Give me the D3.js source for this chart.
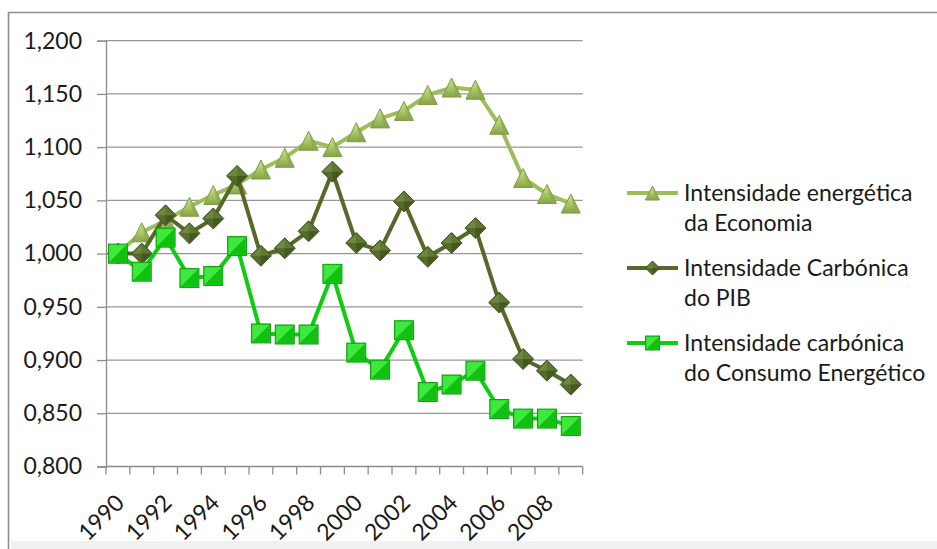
<!DOCTYPE html>
<html>
<head>
<meta charset="utf-8">
<script src="https://cdn.jsdelivr.net/npm/d3@7"></script>
<style>
  html, body { margin: 0; padding: 0; background: #ffffff; }
  svg { display: block; }
  text { font-family: Lato, "Open Sans", sans-serif; fill: #1a1a1a; }
</style>
</head>
<body>
<svg id="chart" width="937" height="549"></svg>
<script>
// Years on the category axis
const years = d3.range(1990, 2010).map(String);
// Labels shown under the axis (every other year)
const xTickLabels = ["1990", "1992", "1994", "1996", "1998", "2000", "2002", "2004", "2006", "2008"];
// Value axis ticks
const yTicks = [0.80, 0.85, 0.90, 0.95, 1.00, 1.05, 1.10, 1.15, 1.20];

// Index values (1990 = 1,000)
const energeticaEconomia = [1.000, 1.020, 1.031, 1.044, 1.055, 1.065, 1.079, 1.090, 1.106, 1.100,
                            1.114, 1.127, 1.134, 1.149, 1.156, 1.154, 1.121, 1.071, 1.056, 1.047];
const carbonicaPIB       = [1.000, 1.000, 1.036, 1.019, 1.033, 1.073, 0.998, 1.005, 1.021, 1.077,
                            1.010, 1.003, 1.049, 0.997, 1.010, 1.024, 0.954, 0.901, 0.890, 0.877];
const carbonicaConsumo   = [1.000, 0.983, 1.015, 0.977, 0.979, 1.007, 0.925, 0.924, 0.924, 0.981,
                            0.907, 0.891, 0.928, 0.870, 0.877, 0.890, 0.854, 0.845, 0.845, 0.838];

const seriesNames = [
  ["Intensidade energética", "da Economia"],
  ["Intensidade Carbónica", "do PIB"],
  ["Intensidade carbónica", "do Consumo Energético"]
];

const series = [
  { name: seriesNames[0], values: energeticaEconomia, color: "#9dbd5a", marker: "triangle" },
  { name: seriesNames[1], values: carbonicaPIB,       color: "#56682a", marker: "diamond" },
  { name: seriesNames[2], values: carbonicaConsumo,   color: "#10cc10", marker: "square" }
];

const svg = d3.select("#chart");
const W = 937, H = 549;

// Outer chart frame (continues past the right and bottom edges)
svg.append("rect").attr("x", 11).attr("y", 541).attr("width", W - 11).attr("height", H - 541)
  .attr("fill", "#f1f1f1");
svg.append("path").attr("d", `M8.5,${H} V12.5 H${W}`)
  .attr("fill", "none").attr("stroke", "#8c8c8c").attr("stroke-width", 1.6);

const plot = { left: 106, right: 582.7, top: 40.7, bottom: 466.5 };

const x = d3.scaleBand().domain(years).range([plot.left, plot.right]).padding(0);
const y = d3.scaleLinear().domain([0.8, 1.2]).range([plot.bottom, plot.top]);
const fmt = v => d3.format(".3f")(v).replace(".", ",");

// Gradients used by the bevelled markers
const defs = svg.append("defs");
function grad(id, stops, x2, y2) {
  const g = defs.append("linearGradient").attr("id", id)
    .attr("x1", 0).attr("y1", 0).attr("x2", x2).attr("y2", y2);
  stops.forEach(([o, c]) => g.append("stop").attr("offset", o).attr("stop-color", c));
}
grad("gTri", [[0, "#cfe394"], [0.55, "#a7c564"], [1, "#86a448"]], 0, 1);

// Horizontal gridlines
svg.append("g").selectAll("line").data(yTicks.slice(1)).join("line")
  .attr("x1", plot.left).attr("x2", plot.right)
  .attr("y1", d => y(d)).attr("y2", d => y(d))
  .attr("stroke", "#979797").attr("stroke-width", 1.3);

// Value axis
const yAxis = d3.axisLeft(y).tickValues(yTicks).tickFormat(fmt).tickSize(9).tickPadding(15);
const gy = svg.append("g").attr("transform", `translate(${plot.left},0)`).call(yAxis);
gy.select(".domain").attr("stroke", "#8c8c8c").attr("stroke-width", 1.3);
gy.selectAll(".tick line").attr("stroke", "#8c8c8c").attr("stroke-width", 1.3);
gy.selectAll(".tick text").style("font-size", "23px").style("font-family", "Lato").attr("fill", "#1a1a1a");

// Category axis: ticks on the category boundaries
const bounds = years.map(d => x(d)).concat([plot.right]);
svg.append("line").attr("x1", plot.left).attr("x2", plot.right)
  .attr("y1", plot.bottom).attr("y2", plot.bottom)
  .attr("stroke", "#8c8c8c").attr("stroke-width", 1.3);
svg.append("g").selectAll("line").data(bounds).join("line")
  .attr("x1", d => d).attr("x2", d => d)
  .attr("y1", plot.bottom).attr("y2", plot.bottom + 8)
  .attr("stroke", "#8c8c8c").attr("stroke-width", 1.3);
svg.append("g").selectAll("text").data(xTickLabels).join("text")
  .attr("transform", d => `translate(${x(d) + x.bandwidth() / 2 + 2},${plot.bottom + 32}) rotate(-45)`)
  .attr("text-anchor", "end").attr("dy", "0.35em")
  .style("font-size", "23px")
  .text(d => d);

// Marker drawing
function drawMarker(g, type, s) {
  const h = s / 2;
  if (type === "triangle") {
    g.append("path").attr("d", `M0,${-h} L${h},${h} L${-h},${h} Z`)
      .attr("fill", "url(#gTri)").attr("stroke", "#7d9a44").attr("stroke-width", 1);
    g.append("path").attr("d", `M0,${-h} L${h},${h} L${h * 0.45},${h} Z`)
      .attr("fill", "#8aa94d").attr("opacity", 0.7);
  } else if (type === "diamond") {
    g.append("path").attr("d", `M0,${-h} L${h},0 L0,${h} L${-h},0 Z`)
      .attr("fill", "#556b2c").attr("stroke", "#3e4f1e").attr("stroke-width", 1);
    g.append("path").attr("d", `M0,${-h + 1} L${-h + 1},0 L0,0 Z`).attr("fill", "#6e8840");
    g.append("path").attr("d", `M0,${-h + 1} L${h - 1},0 L0,0 Z`).attr("fill", "#5f7833");
    g.append("path").attr("d", `M0,${h - 1} L${h - 1},0 L0,0 Z`).attr("fill", "#44581f");
  } else {
    g.append("rect").attr("x", -h).attr("y", -h).attr("width", s).attr("height", s)
      .attr("fill", "#1fd41f").attr("stroke", "#0e9e0e").attr("stroke-width", 1);
    g.append("path").attr("d", `M${-h + 1},${-h + 1} L${h - 1},${-h + 1} L${-h + 1},${h - 1} Z`)
      .attr("fill", "#3fe83f");
    g.append("path").attr("d", `M${h - 1},${h - 1} L${h - 1},${-h + 1} L${-h + 1},${h - 1} Z`)
      .attr("fill", "#12c012");
  }
}

const line = d3.line().x((d, i) => x(years[i]) + x.bandwidth() / 2).y(d => y(d));
const sizes = { triangle: 19, diamond: 21, square: 19 };

series.forEach(s => {
  const g = svg.append("g");
  g.append("path").datum(s.values).attr("d", line)
    .attr("fill", "none").attr("stroke", s.color).attr("stroke-width", 4)
    .attr("stroke-linejoin", "round");
  s.values.forEach((v, i) => {
    const m = g.append("g")
      .attr("transform", `translate(${x(years[i]) + x.bandwidth() / 2},${y(v)})`);
    drawMarker(m, s.marker, sizes[s.marker]);
  });
});

// Legend
const legendY = [193, 268, 343];
const legend = svg.append("g");
series.forEach((s, k) => {
  const ly = legendY[k];
  legend.append("line").attr("x1", 627).attr("x2", 678).attr("y1", ly).attr("y2", ly)
    .attr("stroke", s.color).attr("stroke-width", 4);
  const m = legend.append("g").attr("transform", `translate(652.5,${ly})`);
  drawMarker(m, s.marker, 14);
  const t = legend.append("text").attr("x", 684).attr("y", ly).style("font-size", "23px");
  s.name.forEach((ln, j) => {
    t.append("tspan").attr("x", 684).attr("y", ly + 30 * j).attr("dy", "0.35em").text(ln);
  });
});
</script>
</body>
</html>
